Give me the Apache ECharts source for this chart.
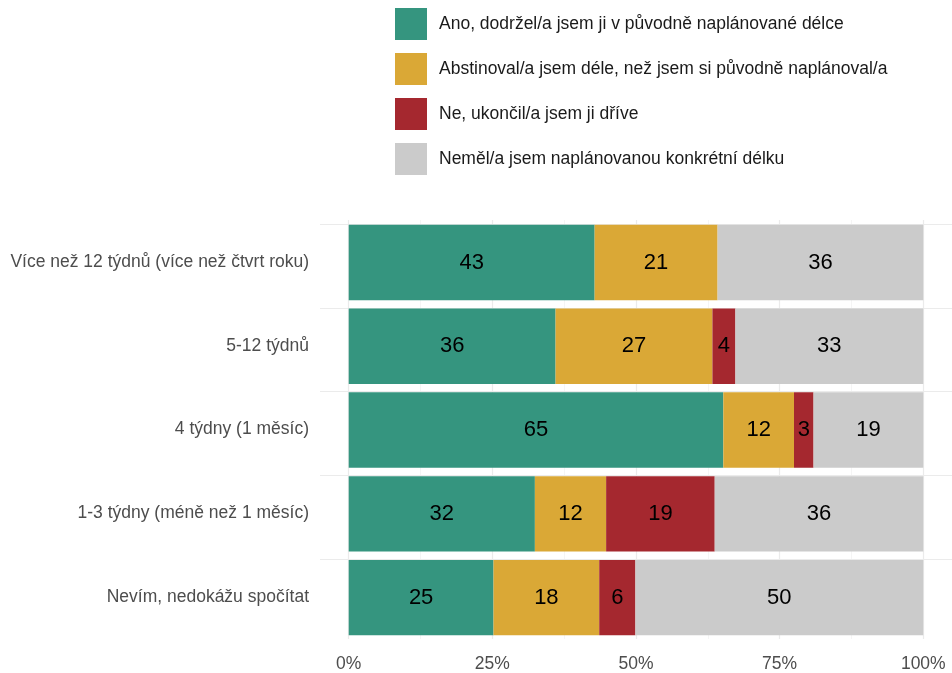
<!DOCTYPE html>
<html>
<head>
<meta charset="utf-8">
<script src="https://cdn.jsdelivr.net/npm/echarts@6/dist/echarts.min.js"></script>
<style>
html,body{margin:0;padding:0;background:#fff;}
#chart{width:952px;height:673px;}
</style>
</head>
<body>
<div id="chart"></div>
<script>
const categories = [
  "Více než 12 týdnů (více než čtvrt roku)",
  "5-12 týdnů",
  "4 týdny (1 měsíc)",
  "1-3 týdny (méně než 1 měsíc)",
  "Nevím, nedokážu spočítat"
];
const seriesNames = [
  "Ano, dodržel/a jsem ji v původně naplánované délce",
  "Abstinoval/a jsem déle, než jsem si původně naplánoval/a",
  "Ne, ukončil/a jsem ji dříve",
  "Neměl/a jsem naplánovanou konkrétní délku"
];
const ano        = [42.8, 36.0, 65.2, 32.4, 25.2];
const abstinoval = [21.4, 27.3, 12.3, 12.4, 18.4];
const ukoncil    = [0,    4.0,  3.4,  18.9, 6.3];
const nemel      = [35.8, 32.7, 19.1, 36.3, 50.1];
const xTicks = [0, 25, 50, 75, 100];
const xMinor = [12.5, 37.5, 62.5, 87.5];
const colors = ["#35957F", "#DAA836", "#A5282F", "#CBCBCB"];

const FONT = 'Liberation Sans, Arial, sans-serif';
const values = [ano, abstinoval, ukoncil, nemel];

const series = values.map((arr, i) => ({
  name: seriesNames[i],
  type: 'bar',
  stack: 'total',
  barWidth: '90%',
  data: arr,
  zlevel: 1,
  itemStyle: { color: colors[i] },
  label: {
    show: true,
    position: 'inside',
    color: '#000',
    fontSize: 22,
    fontFamily: FONT,
    formatter: p => p.value > 0 ? String(Math.round(p.value)) : ''
  },
  emphasis: { disabled: true }
}));

series.unshift({
  type: 'bar',
  stack: 'grid',
  data: [],
  silent: true,
  zlevel: 0,
  markLine: {
    silent: true,
    symbol: 'none',
    label: { show: false },
    animation: false,
    data: [
      ...xTicks.map(v => ({ xAxis: v, lineStyle: { color: '#ebebeb', width: 1.2, type: 'solid' } })),
      ...xMinor.map(v => ({ xAxis: v, lineStyle: { color: '#f3f3f3', width: 0.8, type: 'solid' } })),
      ...categories.map(c => ({ yAxis: c, lineStyle: { color: '#ebebeb', width: 1.2, type: 'solid' } }))
    ]
  }
});

const chart = echarts.init(document.getElementById('chart'), null, { renderer: 'canvas' });
chart.setOption({
  animation: false,
  backgroundColor: '#fff',
  color: colors,
  legend: {
    data: seriesNames,
    orient: 'vertical',
    left: 395,
    top: 8,
    padding: 0,
    itemWidth: 32,
    itemHeight: 32,
    itemGap: 13,
    icon: 'rect',
    selectedMode: false,
    textStyle: {
      color: '#1a1a1a',
      fontSize: 17.5,
      fontFamily: FONT,
      padding: [0, 0, 0, 7]
    }
  },
  grid: { left: 320, right: -1, top: 220, bottom: 34, containLabel: false },
  xAxis: {
    type: 'value',
    min: -5,
    max: 105,
    axisLine: { show: false },
    axisTick: { show: false },
    splitLine: { show: false },
    axisLabel: {
      customValues: xTicks,
      formatter: v => v + '%',
      color: '#4d4d4d',
      fontSize: 17.5,
      fontFamily: FONT,
      margin: 16
    }
  },
  yAxis: {
    type: 'category',
    data: categories,
    inverse: true,
    axisLine: { show: false },
    axisTick: { show: false },
    splitLine: { show: false },
    axisLabel: {
      color: '#4d4d4d',
      fontSize: 17.5,
      fontFamily: FONT,
      margin: 11
    }
  },
  series: series
});
</script>
</body>
</html>
